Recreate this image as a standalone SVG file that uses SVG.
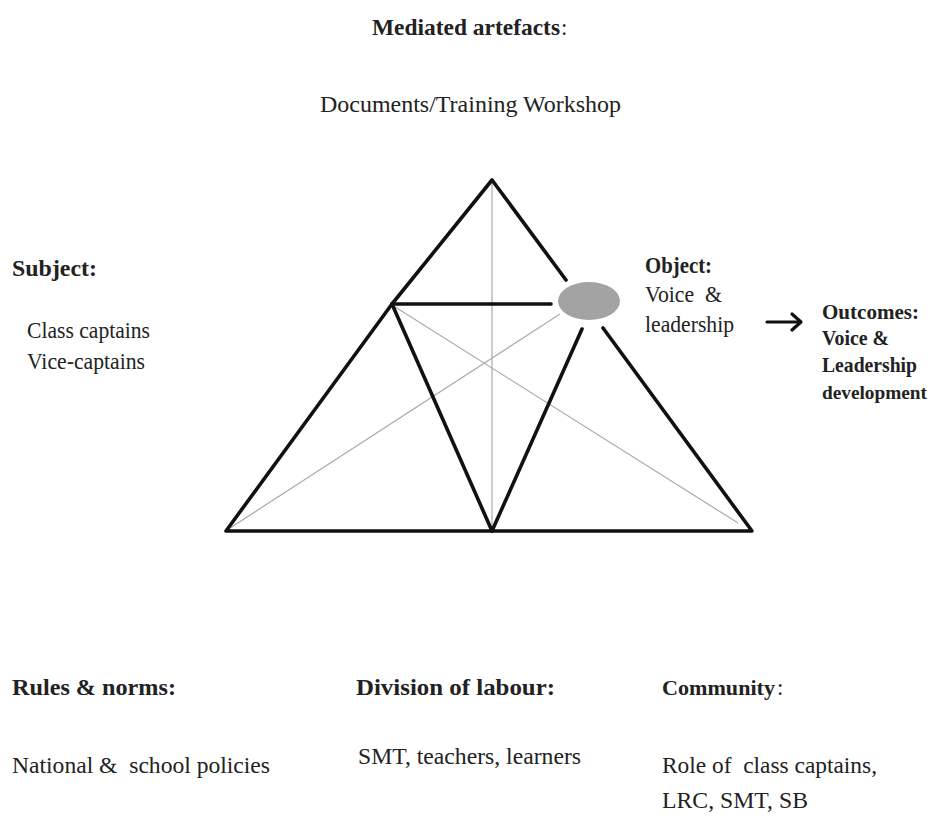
<svg xmlns="http://www.w3.org/2000/svg" width="931" height="818" viewBox="0 0 931 818">
<style>
text{font-family:"Liberation Serif","Times New Roman",serif;fill:#222;font-size:23px;white-space:pre}
.b{font-weight:bold}
.s{font-size:21px}
.thick{stroke:#111;stroke-width:3.6;fill:none;stroke-linecap:round;stroke-linejoin:round}
.thin{stroke:#aaa;stroke-width:1.2;fill:none}
</style>
<rect width="931" height="818" fill="#fff"/>
<g id="connectors">
<line class="thin" x1="492" y1="180" x2="492" y2="531"/>
<line class="thin" x1="392" y1="305" x2="738" y2="523"/>
<line class="thin" x1="227" y1="530" x2="560" y2="314"/>
<polyline class="thick" points="566,280 492,180 392,304 226,531 752,531 603,328"/>
<line class="thick" x1="392" y1="304" x2="551" y2="304"/>
<line class="thick" x1="392" y1="304" x2="492" y2="531"/>
<line class="thick" x1="492" y1="531" x2="582" y2="329"/>
<g id="outcome-arrow" stroke="#111" stroke-width="3.2" fill="none" stroke-linecap="round" stroke-linejoin="round">
<line x1="767" y1="322" x2="800" y2="322"/>
<polyline points="792,314 801,322 792,330"/>
</g>
</g>
<g id="object-node">
<ellipse cx="589" cy="301" rx="31" ry="19" fill="#a3a3a3"/>
</g>
<g id="mediated">
<text class="b" x="372" y="35" textLength="188" lengthAdjust="spacingAndGlyphs">Mediated artefacts</text>
<text x="561" y="35">:</text>
<text x="320" y="112" textLength="301" lengthAdjust="spacingAndGlyphs">Documents/Training Workshop</text>
</g>
<g id="subject">
<text class="b" x="12" y="276" textLength="85" lengthAdjust="spacingAndGlyphs">Subject:</text>
<text x="27" y="338" textLength="123" lengthAdjust="spacingAndGlyphs">Class captains</text>
<text x="27" y="369" textLength="118" lengthAdjust="spacingAndGlyphs">Vice-captains</text>
</g>
<g id="object">
<text class="b" x="645" y="273" textLength="67" lengthAdjust="spacingAndGlyphs">Object:</text>
<text x="645" y="302" textLength="77" lengthAdjust="spacingAndGlyphs">Voice  &amp;</text>
<text x="645" y="332" textLength="89" lengthAdjust="spacingAndGlyphs">leadership</text>
</g>
<g id="outcomes">
<text class="b s" x="822" y="319" textLength="97" lengthAdjust="spacingAndGlyphs">Outcomes:</text>
<text class="b s" x="822" y="345" textLength="67" lengthAdjust="spacingAndGlyphs">Voice &amp;</text>
<text class="b s" x="822" y="372" textLength="95" lengthAdjust="spacingAndGlyphs">Leadership</text>
<text class="b" x="822" y="399" style="font-size:19.5px" textLength="105" lengthAdjust="spacingAndGlyphs">development</text>
</g>
<g id="rules">
<text class="b" x="12" y="695" textLength="164" lengthAdjust="spacingAndGlyphs">Rules &amp; norms:</text>
<text x="12" y="773" textLength="258" lengthAdjust="spacingAndGlyphs">National &amp;  school policies</text>
</g>
<g id="division">
<text class="b" x="356" y="695" textLength="199" lengthAdjust="spacingAndGlyphs">Division of labour:</text>
<text x="358" y="764" textLength="223" lengthAdjust="spacingAndGlyphs">SMT, teachers, learners</text>
</g>
<g id="community">
<text class="b" x="662" y="695" style="font-size:22px" textLength="113" lengthAdjust="spacingAndGlyphs">Community</text>
<text x="777" y="695">:</text>
<text x="662" y="773" textLength="215" lengthAdjust="spacingAndGlyphs">Role of  class captains,</text>
<text x="662" y="808" textLength="146" lengthAdjust="spacingAndGlyphs">LRC, SMT, SB</text>
</g>
</svg>
